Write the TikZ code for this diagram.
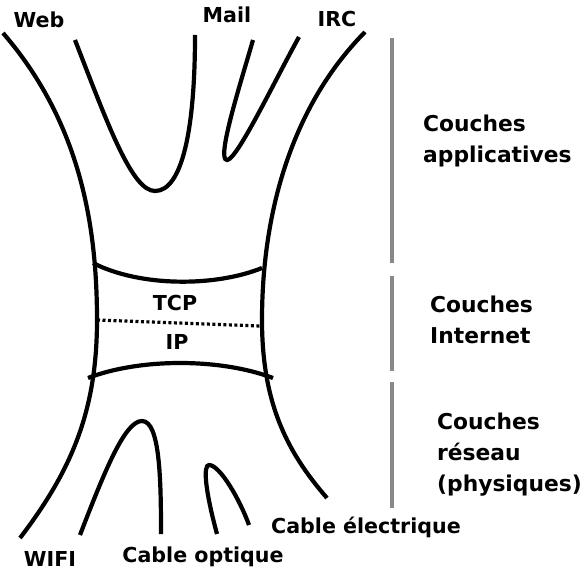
\documentclass[tikz,border=0pt]{standalone}
\usepackage{fontspec}
\setmainfont{DejaVu Sans}
\usepackage{xcolor}
\usetikzlibrary{positioning}
\definecolor{bargray}{RGB}{136,136,136}

\begin{document}
\begin{tikzpicture}[%
            x=1pt, y=-1pt,
            strand/.style={line width=4.2pt},
            layerbar/.style={draw=bargray, line width=4pt},
            lbl/.style={inner sep=0pt, font=\fontsize{20.6}{24}\selectfont\bfseries},
            layer/.style={inner sep=0pt, anchor=west, align=left, font=\fontsize{21.8}{31}\selectfont\bfseries}
        ]
        \useasboundingbox (0,0) rectangle (583,583);

        % Outer sides of the hourglass
        \draw[strand] (3,33) .. controls (78,120) and (97,220) .. (97,320)
            .. controls (97,410) and (72,470) .. (20,538);
        \draw[strand] (365,32) .. controls (288,110) and (262,220) .. (262,320)
            .. controls (262,400) and (285,450) .. (327,498);

        % Application strands
        \draw[strand] (75,40) .. controls (108,125) and (132,191) .. (155,191)
            .. controls (182,191) and (195,130) .. (195,35);
        \draw[strand] (253,40) .. controls (240,85) and (216,160) .. (227,160)
            .. controls (237,160) and (275,80) .. (299,37);

        % Network strands
        \draw[strand] (80,535) .. controls (105,470) and (125,421) .. (142,421)
            .. controls (160,421) and (161,480) .. (161,534);
        \draw[strand] (217,534) .. controls (205,490) and (203,465) .. (209,465)
            .. controls (220,465) and (240,500) .. (249,525);

        % Internet layer
        \draw[strand] (93,263) .. controls (140,287) and (215,287) .. (262,268);
        \draw[strand] (88,378) .. controls (140,358) and (220,358) .. (273,378);
        \draw[line width=3.2pt, dash pattern=on 3pt off 2.5pt] (97,320) -- (260,326);
        \node[lbl] (tcp) at (175,303) {TCP};
        \node[lbl] (ip) at (177,342) {IP};

        % Strand labels
        \node[lbl] (web) at (39,20) {Web};
        \node[lbl] (mail) at (227,15) {Mail};
        \node[lbl] (irc) at (337,19) {IRC};
        \node[lbl] (wifi) at (50,559) {WIFI};
        \node[lbl] (optique) at (203,557) {Cable optique};
        \node[lbl] (electrique) at (366,527) {Cable électrique};

        % Layer bars
        \coordinate (app top) at (392,38);
        \coordinate (app bot) at (392,263);
        \coordinate (net top) at (392,276);
        \coordinate (net bot) at (392,371);
        \coordinate (phy top) at (392,382);
        \coordinate (phy bot) at (392,508);
        \draw[layerbar] (app top) -- (app bot);
        \draw[layerbar] (net top) -- (net bot);
        \draw[layerbar] (phy top) -- (phy bot);

        % Layer names
        \node[layer] (applic) at (423,141) {Couches\\applicatives};
        \node[layer] (internet) at (430,320) {Couches\\Internet};
        \node[layer] (reseau) at (437,455) {Couches\\réseau\\(physiques)};

        \end{tikzpicture}
\end{document}
